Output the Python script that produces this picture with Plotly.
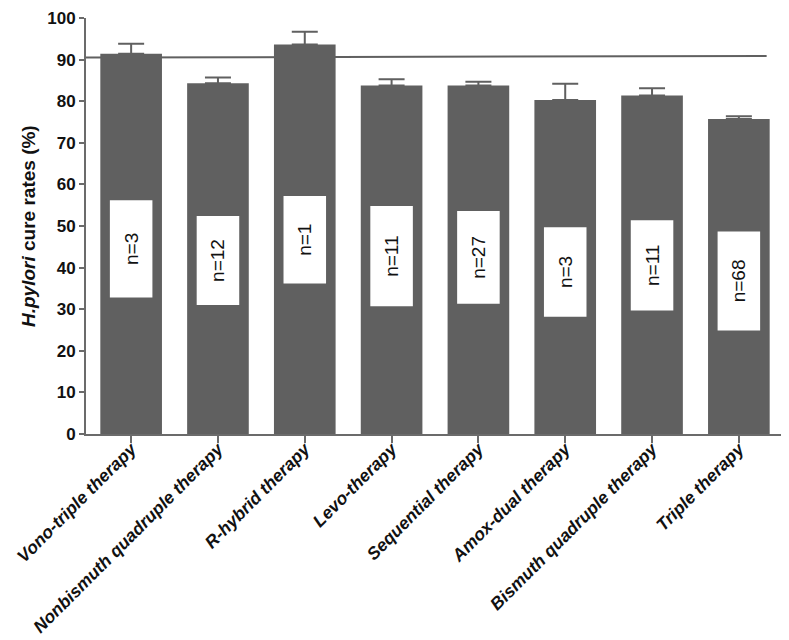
import plotly.graph_objects as go

categories = ["Vono-triple therapy", "Nonbismuth quadruple therapy", "R-hybrid therapy",
              "Levo-therapy", "Sequential therapy", "Amox-dual therapy",
              "Bismuth quadruple therapy", "Triple therapy"]
cure_rates = [91.4, 84.3, 93.6, 83.8, 83.8, 80.3, 81.4, 75.7]
err_upper = [2.4, 1.4, 3.1, 1.5, 0.9, 3.9, 1.7, 0.7]
n_labels = ["n=3", "n=12", "n=1", "n=11", "n=27", "n=3", "n=11", "n=68"]
box_top = [56.2, 52.4, 57.2, 54.8, 53.6, 49.7, 51.4, 48.7]
box_bottom = [32.8, 31.0, 36.2, 30.7, 31.3, 28.2, 29.7, 24.9]
ref_line = [90.5, 90.85]
y_ticks = [0, 10, 20, 30, 40, 50, 60, 70, 80, 90, 100]

x_idx = list(range(len(categories)))
BAR = "#606060"
AXIS = "#6b6b6b"

fig = go.Figure()
fig.add_trace(go.Bar(
    x=x_idx, y=cure_rates, width=0.71, marker=dict(color=BAR, line=dict(width=0)),
    error_y=dict(type="data", symmetric=False, array=err_upper,
                 arrayminus=[0] * len(err_upper), color=BAR, thickness=2, width=13),
    hoverinfo="skip", showlegend=False,
))
fig.add_trace(go.Bar(
    x=x_idx, y=[t - b for t, b in zip(box_top, box_bottom)], base=box_bottom,
    width=0.49, marker=dict(color="white", line=dict(width=0)),
    text=n_labels, textposition="inside", insidetextanchor="middle", textangle=-90,
    textfont=dict(family="Liberation Sans", size=19, color="#111111"),
    constraintext="none", hoverinfo="skip", showlegend=False,
))

fig.add_shape(type="line", xref="x", yref="y", x0=-0.52, x1=7.32,
              y0=ref_line[0], y1=ref_line[1], line=dict(color=BAR, width=2), layer="below")

fig.add_annotation(
    text="<b><i>H.pylori</i> cure rates (%)</b>", textangle=-90,
    xref="paper", yref="paper", x=0, y=0.5, xanchor="center", yanchor="middle",
    xshift=-58, showarrow=False,
    font=dict(family="Liberation Sans", size=19, color="#111111"),
)

fig.update_layout(
    width=781, height=632, barmode="overlay",
    margin=dict(l=78, r=5, t=10, b=206),
    plot_bgcolor="white", paper_bgcolor="white",
    xaxis=dict(
        range=[-0.52, 7.52], tickmode="array", tickvals=x_idx, ticktext=categories,
        tickangle=-45, showline=True, linecolor=AXIS, linewidth=2,
        ticks="outside", ticklen=7, tickwidth=2, tickcolor=AXIS,
        showgrid=False, zeroline=False, automargin=False, ticklabelstandoff=-11,
        tickfont=dict(family="Liberation Sans", size=17.5, color="#111111",
                      weight="bold", style="italic"),
    ),
    yaxis=dict(
        range=[0, 100], tickvals=y_ticks, showline=True, linecolor=AXIS, linewidth=2,
        ticks="outside", ticklen=5, tickwidth=2, tickcolor=AXIS,
        showgrid=False, zeroline=False, ticklabelstandoff=0, automargin=False,
        ticklabeloverflow="allow",
        tickfont=dict(family="Liberation Sans", size=17, color="#111111", weight="bold"),
    ),
)

fig.write_html("out.html")
